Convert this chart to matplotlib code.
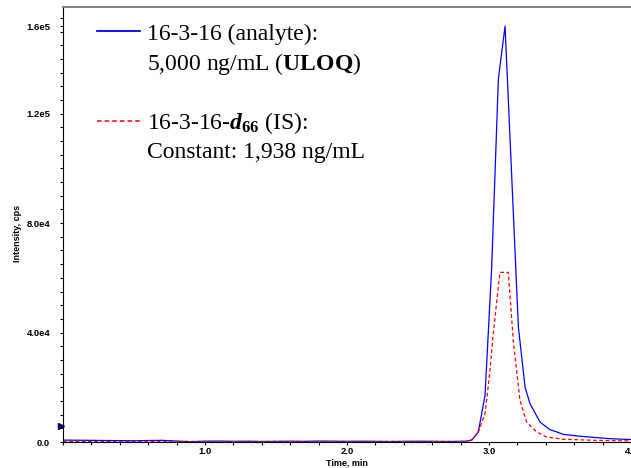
import numpy as np
import matplotlib.pyplot as plt
from matplotlib.lines import Line2D
from matplotlib.ticker import MultipleLocator

plt.rcParams['mathtext.fontset'] = 'custom'
plt.rcParams['mathtext.rm'] = 'Liberation Serif'
plt.rcParams['mathtext.bf'] = 'Liberation Serif:bold'
plt.rcParams['mathtext.it'] = 'Liberation Serif:italic'
plt.rcParams['mathtext.bfit'] = 'Liberation Serif:bold:italic'

# analyte trace (blue), time in min, intensity in cps
analyte_time = [0.00, 0.10, 0.20, 0.30, 0.40, 0.50, 0.60, 0.70, 0.80, 0.90,
                1.00, 1.10, 1.20, 1.30, 1.40, 1.50, 1.60, 1.70, 1.80, 1.90,
                2.00, 2.10, 2.20, 2.30, 2.40, 2.50, 2.60, 2.70, 2.80, 2.832,
                2.878, 2.925, 2.972, 3.019, 3.066, 3.113, 3.160, 3.207, 3.254,
                3.289, 3.359, 3.429, 3.476, 3.523, 3.641, 3.852, 4.00]
analyte_cps = [700, 650, 600, 550, 500, 450, 550, 600, 350, 150,
               300, 350, 250, 300, 200, 250, 300, 250, 350, 300,
               250, 300, 250, 200, 250, 300, 250, 200, 250, 300,
               600, 3700, 17000, 64000, 132700, 152000, 97000, 42000, 20000,
               14000, 7300, 4500, 3700, 2800, 2100, 1200, 900]

# internal standard trace (red dashed)
is_time = [0.00, 0.50, 1.00, 1.50, 2.00, 2.50, 2.85, 2.889, 2.930, 2.972,
           3.002, 3.030, 3.077, 3.136, 3.171, 3.218, 3.265, 3.335, 3.406,
           3.523, 3.757, 4.00]
is_cps = [150, 120, 100, 100, 100, 100, 100, 1200, 4300, 10400,
          23700, 39600, 62000, 62000, 37000, 15200, 7300, 3700, 1800,
          1000, 600, 400]

threshold_cps = 5800

x_ticks = [1.0, 2.0, 3.0, 4.0]
x_labels = ['1.0', '2.0', '3.0', '4.0']
y_ticks = [0, 40000, 80000, 120000, 152000]
y_labels = ['0.0', '4.0e4', '8.0e4', '1.2e5', '1.6e5']

legend_labels = ['16-3-16 (analyte):',
                 '5,000 ng/mL ($\\mathbf{ULOQ}$)',
                 ' ',
                 '16-3-16-$\\mathbfit{d}_{\\mathbf{66}}$ (IS):',
                 'Constant: 1,938 ng/mL']

fig = plt.figure(figsize=(6.31, 4.68), dpi=100)
ax = fig.add_axes([63 / 631, 26 / 468, 568 / 631, 435 / 468])

ax.plot(analyte_time, analyte_cps, color='#0000ff', lw=0.9)
ax.plot(is_time, is_cps, color='#ff0000', lw=0.9, dashes=(3, 2))
ax.plot([-0.004], [threshold_cps], marker='>', ms=4, color='#00006e',
        transform=ax.get_yaxis_transform(), clip_on=False)

ax.set_xlim(0, 4.0)
ax.set_ylim(0, 159000)

ax.set_xticks(x_ticks)
ax.set_xticklabels(x_labels)
ax.xaxis.set_minor_locator(MultipleLocator(0.2))
ax.set_yticks(y_ticks)
ax.set_yticklabels(y_labels)
ax.yaxis.set_minor_locator(MultipleLocator(5000))

tick_font = dict(family='Liberation Sans', weight='bold', size=6.5)
for lab in ax.get_xticklabels() + ax.get_yticklabels():
    lab.set_fontproperties('Liberation Sans')
    lab.set_fontweight('bold')
    lab.set_fontsize(6.8)
ax.tick_params(axis='both', which='both', direction='out', length=2.2,
               width=0.8, color='black')
ax.tick_params(axis='x', pad=1.5)
ax.tick_params(axis='y', pad=7)

ax.set_xlabel('Time, min', **tick_font)
ax.set_ylabel('Intensity, cps', **tick_font)
ax.xaxis.set_label_coords(0.5, -0.037)
ax.yaxis.set_label_coords(-0.072, 0.48)

ax.spines['right'].set_visible(False)
ax.spines['top'].set_color('#808080')
ax.spines['top'].set_linewidth(1.4)
ax.spines['left'].set_linewidth(0.8)
ax.spines['bottom'].set_linewidth(0.8)

handles = [Line2D([], [], color='#0000ff', lw=1.3),
           Line2D([], [], color='none'),
           Line2D([], [], color='none'),
           Line2D([], [], color='#ff0000', lw=1.1, dashes=(3, 2)),
           Line2D([], [], color='none')]
leg = ax.legend(handles, legend_labels, loc='upper left',
                bbox_to_anchor=(0.06, 0.963), frameon=False,
                prop={'family': 'Liberation Serif', 'size': 17},
                handlelength=1.82, handletextpad=0.3, labelspacing=0.25,
                borderpad=0, borderaxespad=0)

fig.savefig('out.png', dpi=100)
